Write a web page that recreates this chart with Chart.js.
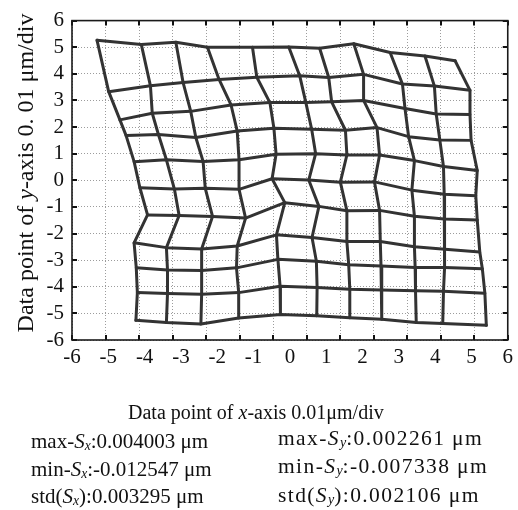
<!DOCTYPE html>
<html>
<head>
<meta charset="utf-8">
<script src="https://cdn.jsdelivr.net/npm/chart.js@4.4.1/dist/chart.umd.min.js"></script>
<style>
  html, body { margin: 0; padding: 0; background: #fff; }
  #wrap { position: relative; width: 518px; height: 510px; overflow: hidden;
          font-family: "Liberation Serif", "Times New Roman", serif; color: #111; }
  #plot { position: absolute; left: 0; top: 0; }
  .t { position: absolute; white-space: nowrap; font-size: 20px; line-height: 28px; }
  .t sub { font-size: 0.65em; vertical-align: -0.15em; line-height: 0; letter-spacing: 0; }
  #ytitle { position: absolute; left: -145px; top: 161px; width: 340px; height: 24px;
            line-height: 24px; font-size: 24px; text-align: center; white-space: nowrap;
            transform: rotate(-90deg); transform-origin: 50% 50%; }
</style>
</head>
<body>
<div id="wrap">
  <canvas id="plot" width="518" height="510" style="width:518px;height:510px"></canvas>
  <div id="ytitle">Data point of <i>y</i>-axis 0. 01 μm/div</div>
  <div class="t" style="left:128px;top:398px;">Data point of <i>x</i>-axis 0.01μm/div</div>
  <div class="t" style="left:31px;top:428px;line-height:27.5px;font-size:21px;">
    max-<i>S<sub>x</sub></i>:0.004003 μm<br>
    min-<i>S<sub>x</sub></i>:-0.012547 μm<br>
    std(<i>S<sub>x</sub></i>):0.003295 μm
  </div>
  <div class="t" style="left:278px;top:424px;line-height:28.3px;font-size:21.5px;letter-spacing:1.4px;">
    max-<i>S<sub>y</sub></i>:0.002261 μm<br>
    min-<i>S<sub>y</sub></i>:-0.007338 μm<br>
    std(<i>S<sub>y</sub></i>):0.002106 μm
  </div>
</div>
<script>
// Axis ranges (0.01 µm per division) and the number of dotted vertical grid divisions
const axisMin = -6;
const axisMax = 6;
const gridDivisions = 13;

// Measured mesh nodes, one array per nominal row (top to bottom), [x, y] per column
const rowY5  = [[-5.31, 5.26], [-4.09, 5.10], [-3.14, 5.19], [-2.27, 5.00], [-1.03, 5.00], [-0.03, 5.01], [0.82, 4.96], [1.76, 5.13], [2.76, 4.80], [3.72, 4.67], [4.55, 4.49]];
const rowY4  = [[-4.99, 3.33], [-3.84, 3.55], [-2.94, 3.67], [-1.95, 3.79], [-0.91, 3.87], [0.27, 3.93], [1.07, 3.86], [2.03, 3.98], [3.10, 3.62], [3.98, 3.54], [4.96, 3.38]];
const rowY3  = [[-4.68, 2.27], [-3.79, 2.52], [-2.73, 2.59], [-1.62, 2.83], [-0.55, 2.92], [0.44, 2.92], [1.15, 2.95], [2.03, 3.00], [3.17, 2.70], [4.03, 2.49], [4.96, 2.47]];
const rowY2  = [[-4.51, 1.68], [-3.62, 1.72], [-2.59, 1.61], [-1.45, 1.85], [-0.44, 1.96], [0.60, 1.92], [1.53, 1.88], [2.40, 1.98], [3.27, 1.64], [4.13, 1.51], [4.99, 1.50]];
const rowY1  = [[-4.29, 0.70], [-3.40, 0.77], [-2.39, 0.71], [-1.40, 0.77], [-0.38, 0.98], [0.71, 1.00], [1.57, 0.95], [2.47, 0.95], [3.43, 0.74], [4.23, 0.52], [5.16, 0.37]];
const rowY0  = [[-4.13, -0.28], [-3.18, -0.33], [-2.33, -0.30], [-1.40, -0.34], [-0.49, 0.06], [0.52, 0.01], [1.39, -0.07], [2.33, -0.06], [3.36, -0.37], [4.25, -0.52], [5.12, -0.58]];
const rowYm1 = [[-3.92, -1.30], [-3.05, -1.32], [-2.13, -1.36], [-1.22, -1.42], [-0.14, -0.84], [0.80, -0.98], [1.57, -1.14], [2.47, -1.13], [3.43, -1.35], [4.25, -1.45], [5.16, -1.49]];
const rowYm2 = [[-4.29, -2.35], [-3.40, -2.53], [-2.43, -2.58], [-1.45, -2.47], [-0.37, -2.05], [0.61, -2.15], [1.57, -2.30], [2.49, -2.30], [3.43, -2.50], [4.27, -2.59], [5.23, -2.69]];
const rowYm3 = [[-4.23, -3.29], [-3.37, -3.37], [-2.43, -3.39], [-1.47, -3.29], [-0.33, -2.97], [0.73, -3.04], [1.62, -3.17], [2.51, -3.22], [3.45, -3.28], [4.26, -3.28], [5.30, -3.32]];
const rowYm4 = [[-4.20, -4.22], [-3.37, -4.25], [-2.43, -4.28], [-1.41, -4.22], [-0.27, -3.98], [0.75, -4.03], [1.65, -4.09], [2.53, -4.12], [3.46, -4.15], [4.23, -4.17], [5.37, -4.24]];
const rowYm5 = [[-4.24, -5.26], [-3.40, -5.34], [-2.45, -5.40], [-1.41, -5.17], [-0.26, -5.04], [0.74, -5.09], [1.65, -5.16], [2.53, -5.22], [3.48, -5.34], [4.21, -5.38], [5.41, -5.45]];

const meshRows = [rowY5, rowY4, rowY3, rowY2, rowY1, rowY0, rowYm1, rowYm2, rowYm3, rowYm4, rowYm5];

const FONT = '"Liberation Serif", "Times New Roman", serif';
const MESH_COLOR = '#333333';
const GRID_COLOR = '#9c9c9c';

function meshLine(points) {
  return {
    data: points.map(([x, y]) => ({ x, y })),
    showLine: true,
    borderColor: MESH_COLOR,
    borderWidth: 3,
    pointRadius: 0,
    pointHoverRadius: 0,
    fill: false,
    tension: 0,
    borderJoinStyle: 'round',
    borderCapStyle: 'round',
    xAxisID: 'x',
    yAxisID: 'y'
  };
}

const datasets = [];
meshRows.forEach(row => datasets.push(meshLine(row)));
for (let c = 0; c < rowY5.length; c++) {
  datasets.push(meshLine(meshRows.map(row => row[c])));
}

// Plot frame plus short inward tick marks on all four sides
const frameAndTicks = {
  id: 'frameAndTicks',
  afterDraw(chart) {
    const { ctx, chartArea: a, scales } = chart;
    const len = 5;
    ctx.save();
    ctx.strokeStyle = '#111';
    ctx.lineWidth = 2;
    ctx.beginPath();
    scales.xg.ticks.forEach(t => {
      const px = Math.round(scales.xg.getPixelForValue(t.value));
      ctx.moveTo(px, a.bottom); ctx.lineTo(px, a.bottom - len);
      ctx.moveTo(px, a.top); ctx.lineTo(px, a.top + len);
    });
    scales.y.ticks.forEach(t => {
      const py = Math.round(scales.y.getPixelForValue(t.value));
      ctx.moveTo(a.left, py); ctx.lineTo(a.left + len, py);
      ctx.moveTo(a.right, py); ctx.lineTo(a.right - len, py);
    });
    ctx.stroke();
    ctx.lineWidth = 1.6;
    ctx.strokeStyle = '#1a1a1a';
    ctx.strokeRect(a.left, a.top, a.right - a.left, a.bottom - a.top);
    ctx.restore();
  }
};

new Chart(document.getElementById('plot'), {
  type: 'scatter',
  data: { datasets },
  plugins: [frameAndTicks],
  options: {
    responsive: false,
    animation: false,
    events: [],
    layout: { padding: { top: 15, right: 8, left: 0, bottom: 0 } },
    plugins: { legend: { display: false }, tooltip: { enabled: false } },
    scales: {
      x: {
        type: 'linear', position: 'bottom', min: axisMin, max: axisMax,
        ticks: { stepSize: 1, autoSkip: false, maxRotation: 0, color: '#111',
                 font: { family: FONT, size: 21 }, padding: 5 },
        grid: { display: false, drawTicks: false },
        border: { display: false },
        afterFit(s) { s.height = 170; }
      },
      xg: {
        type: 'linear', position: 'top', min: 0, max: gridDivisions,
        ticks: { display: false, stepSize: 1 },
        grid: { color: GRID_COLOR, lineWidth: 1, drawTicks: false, borderDash: [1, 2] },
        border: { display: false, dash: [1, 2] },
        afterFit(s) { s.height = 0; }
      },
      y: {
        type: 'linear', position: 'left', min: axisMin, max: axisMax,
        ticks: { stepSize: 1, autoSkip: false, color: '#111',
                 font: { family: FONT, size: 21 }, padding: 8 },
        grid: { color: GRID_COLOR, lineWidth: 1, drawTicks: false, borderDash: [1, 2] },
        border: { display: false, dash: [1, 2] },
        afterFit(s) { s.width = 72; }
      }
    }
  }
});
</script>
</body>
</html>
